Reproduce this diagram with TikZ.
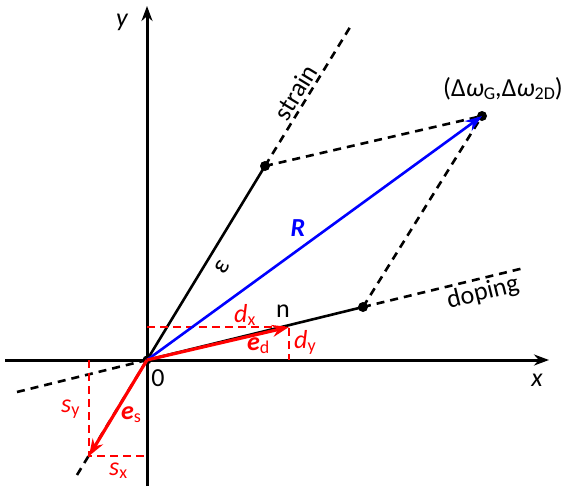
\documentclass[tikz,border=0pt]{standalone}
\usepackage{fontspec}
\setmainfont{Carlito}
\usetikzlibrary{arrows.meta}
\newcommand{\lsub}[1]{\raisebox{-0.3ex}{\fontsize{18}{18}\selectfont #1}}
\begin{document}
\begin{tikzpicture}[x=1pt,y=-1pt,
  lbl/.style={inner sep=0pt,font=\fontsize{26}{30}\selectfont},
  rlbl/.style={lbl,text=red},
  axis/.style={line width=3pt,-{Stealth[length=15pt,width=11pt]}},
  solidln/.style={line width=2.6pt},
  dashln/.style={line width=2.6pt,dash pattern=on 8pt off 6pt},
  rdash/.style={line width=2.4pt,red,dash pattern=on 8pt off 5pt},
  rarrow/.style={line width=3.2pt,red,-{Stealth[length=17pt,width=12pt]}},
  barrow/.style={line width=2.6pt,blue,-{Stealth[length=17pt,width=12pt]}},
  dot/.style={circle,fill=black,inner sep=0pt,minimum size=10pt}]
\useasboundingbox (0,0) rectangle (578,493);
% coordinates
\coordinate (O) at (147,360);
\coordinate (xs) at (5,360);
\coordinate (xe) at (549,360);
\coordinate (ys) at (147,486);
\coordinate (ye) at (147,6);
\coordinate (sl) at (77,475);
\coordinate (su) at (352,24);
\coordinate (dl) at (17,392);
\coordinate (du) at (524,268);
\coordinate (ed) at (289,327);
\coordinate (es) at (89,456);
\coordinate (edx) at (147,327);
\coordinate (edy) at (289,360);
\coordinate (esy) at (89,360);
\coordinate (esx) at (147,456);
% axes
\draw[axis] (xs) -- (xe);
\draw[axis] (ys) -- (ye);
% strain and doping lines
\node[dot] (S) at (265,166) {};
\node[dot] (D) at (363,307) {};
\node[dot] (P) at (482,116) {};
\node[dot,minimum size=9pt] (Od) at (O) {};
\draw[dashln] (sl) -- (O);
\draw[solidln] (O) -- (S.center);
\draw[dashln] (S.center) -- (su);
\draw[dashln] (dl) -- (O);
\draw[solidln] (O) -- (D.center);
\draw[dashln] (D.center) -- (du);
\draw[dashln] (S.center) -- (P.center);
\draw[dashln] (D.center) -- (P.center);
% red projections
\draw[rdash] (edx) -- (ed) -- (edy);
\draw[rdash] (esy) -- (es) -- (esx);
% vectors
\draw[barrow] (O) -- (P.center);
\draw[rarrow] (O) -- (ed);
\draw[rarrow] (O) -- (es);
% labels
\node[lbl,font=\fontsize{26}{30}\selectfont\itshape] (ylab) at (122,22) {y};
\node[lbl,font=\fontsize{26}{30}\selectfont\itshape] (xlab) at (537,380) {x};
\node[lbl] (zero) at (158,378) {0};
\node[lbl,rotate=58.7,anchor=south,inner sep=2pt] (strain) at (305,98) {strain};
\node[lbl,rotate=13.8] (doping) at (483,293) {doping};
\node[lbl] (n) at (283,311) {n};
\node[lbl,rotate=58.7] (eps) at (222,267) {ε};
\node[lbl,text=blue,font=\fontsize{26}{30}\selectfont\bfseries\itshape] (R) at (298,228) {R};
\node[lbl,anchor=base] (pt) at (503,96) {(Δ\textit{ω}\lsub{G},Δ\textit{ω}\lsub{2D})};
\node[rlbl,anchor=base west] (dx) at (234,322) {\textit{d}\lsub{x}};
\node[rlbl,anchor=base west] (dy) at (294,348) {\textit{d}\lsub{y}};
\node[rlbl,anchor=base west] (edl) at (247,350) {\textbf{\textit{e}}\lsub{d}};
\node[rlbl,anchor=base west] (esl) at (121,419) {\textbf{\textit{e}}\lsub{s}};
\node[rlbl,anchor=base west] (syl) at (61,412) {\textit{s}\lsub{y}};
\node[rlbl,anchor=base west] (sxl) at (109,475) {\textit{s}\lsub{x}};
\end{tikzpicture}
\end{document}
